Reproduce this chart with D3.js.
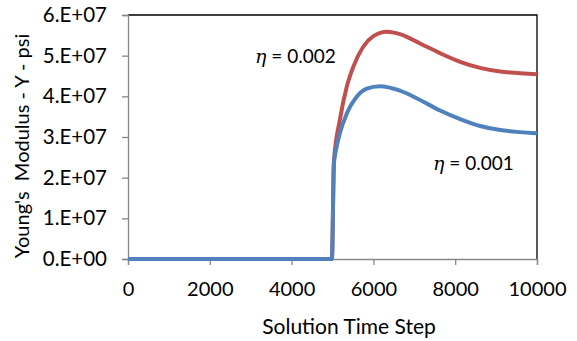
<!DOCTYPE html>
<html>
<head>
<meta charset="utf-8">
<script src="https://cdn.jsdelivr.net/npm/d3@7"></script>
<style>
  body { margin: 0; background: #fff; }
  text { font-family: Lato, "Open Sans", sans-serif; fill: #000; }
</style>
</head>
<body>
<svg id="chart" width="577" height="341"></svg>
<script>
// time steps and Young's modulus values (psi)
const stepsLow  = [0, 4985, 5035, 5100, 5180, 5350, 5590, 5840, 6160, 6650, 7140, 7630, 8120, 8610, 9100, 9580, 10000];
const valuesLow = [0, 0, 2.35e7, 2.75e7, 3.09e7, 3.58e7, 3.99e7, 4.19e7, 4.25e7, 4.14e7, 3.91e7, 3.65e7, 3.44e7, 3.27e7, 3.17e7, 3.12e7, 3.09e7];

const stepsHigh  = [0, 4985, 5035, 5180, 5350, 5510, 5750, 6000, 6330, 6650, 7140, 7630, 8120, 8610, 9100, 9580, 10000];
const valuesHigh = [0, 0, 2.40e7, 3.42e7, 4.24e7, 4.73e7, 5.22e7, 5.48e7, 5.59e7, 5.53e7, 5.30e7, 5.06e7, 4.85e7, 4.70e7, 4.61e7, 4.57e7, 4.54e7];

const xTicks = [0, 2000, 4000, 6000, 8000, 10000];
const yTicks = [0, 1e7, 2e7, 3e7, 4e7, 5e7, 6e7];
const yTickLabels = ["0.E+00", "1.E+07", "2.E+07", "3.E+07", "4.E+07", "5.E+07", "6.E+07"];

const labelLow = "0.001";
const labelHigh = "0.002";

const options = {
  left: 128, right: 537, top: 15, bottom: 259
};

const svg = d3.select("#chart");

const xScale = d3.scaleLinear()
                 .domain([0, 10000])
                 .range([options.left, options.right]);
const yScale = d3.scaleLinear()
                 .domain([0, 6e7])
                 .range([options.bottom, options.top]);

// frame: black top and right
svg.append("path")
   .attr("d", `M${options.left},${options.top}H${options.right}V${options.bottom}`)
   .attr("fill", "none")
   .attr("stroke", "#000")
   .attr("stroke-width", 1.3);

// Y axis
const yAxis = d3.axisLeft(yScale)
                .tickValues(yTicks)
                .tickSize(6)
                .tickPadding(15)
                .tickFormat((d, i) => yTickLabels[i]);
const gy = svg.append("g")
              .attr("transform", `translate(${options.left},0)`)
              .call(yAxis);
gy.select(".domain").attr("stroke", "#888").attr("stroke-width", 1.3);
gy.selectAll(".tick line").attr("stroke", "#888").attr("stroke-width", 1.3);
gy.selectAll(".tick text").style("font-size", "20.5px").attr("fill", "#000");

// X axis
const xAxis = d3.axisBottom(xScale)
                .tickValues(xTicks)
                .tickSize(6)
                .tickPadding(17)
                .tickFormat(d3.format("d"));
const gx = svg.append("g")
              .attr("transform", `translate(0,${options.bottom})`)
              .call(xAxis);
gx.select(".domain").attr("stroke", "#888").attr("stroke-width", 1.3);
gx.selectAll(".tick line").attr("stroke", "#888").attr("stroke-width", 1.3);
gx.selectAll(".tick text").style("font-size", "20px").attr("fill", "#000");

// series lines
const line = d3.line()
               .x(d => xScale(d[0]))
               .y(d => yScale(d[1]))
               .curve(d3.curveMonotoneX);

svg.append("path")
   .datum(d3.zip(stepsHigh, valuesHigh))
   .attr("fill", "none")
   .attr("stroke", "#C0504D")
   .attr("stroke-width", 4)
   .attr("d", line);

svg.append("path")
   .datum(d3.zip(stepsLow, valuesLow))
   .attr("fill", "none")
   .attr("stroke", "#4F81BD")
   .attr("stroke-width", 4)
   .attr("d", line);

// annotations
const addLabel = (x, y, val) => {
  const t = svg.append("text")
               .attr("x", x)
               .attr("y", y)
               .style("font-size", "19px");
  t.append("tspan").style("font-style", "italic").style("font-family", "'DejaVu Serif', serif").text("\u03B7");
  t.append("tspan").text(" = " + val);
};
addLabel(255, 63, labelHigh);
addLabel(433, 170, labelLow);

// axis titles
svg.append("text")
   .attr("x", 349)
   .attr("y", 334)
   .attr("text-anchor", "middle")
   .style("font-size", "21px")
   .text("Solution Time Step");

svg.append("text")
   .attr("transform", "translate(29,146) rotate(-90)")
   .attr("text-anchor", "middle")
   .style("font-size", "20px")
   .style("white-space", "pre")
   .text("Young's  Modulus - Y - psi");
</script>
</body>
</html>
